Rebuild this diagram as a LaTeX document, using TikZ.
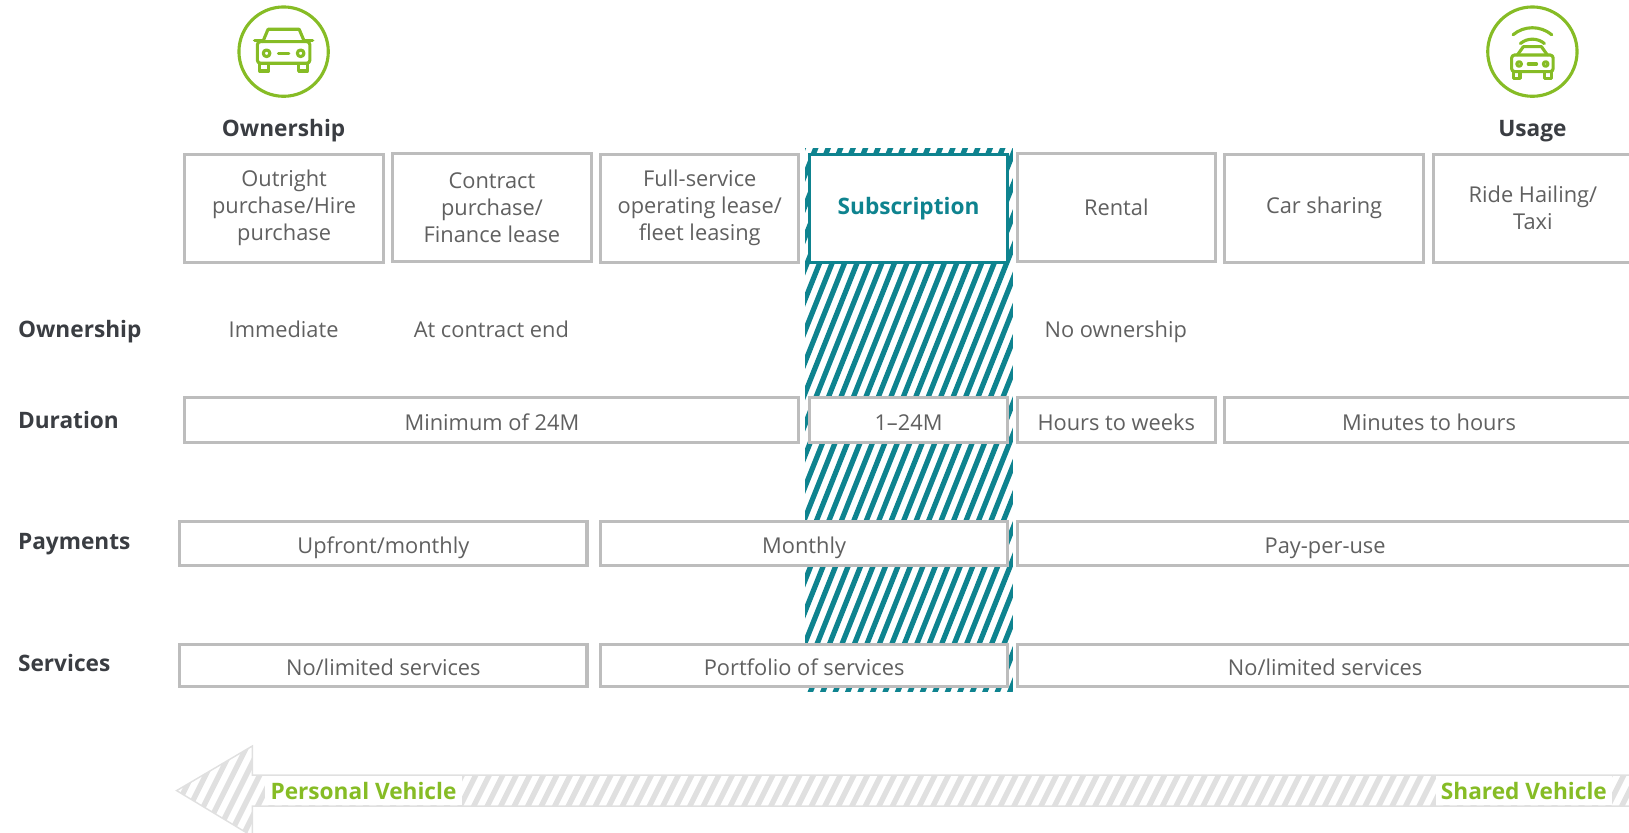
\documentclass[tikz,border=0pt]{standalone}
\usepackage{fontspec}
\setmainfont{Open Sans}
\usetikzlibrary{positioning,calc}

\definecolor{dgreen}{HTML}{86BC25}
\definecolor{dteal}{HTML}{0E838F}
\definecolor{boxgray}{HTML}{BDBDBD}
\definecolor{txtgray}{HTML}{606060}
\definecolor{labeldark}{HTML}{3A3D42}
\definecolor{stripegray}{HTML}{E0E0E0}

\tikzset{
  boldfont/.style={font=\fontsize{10.9}{13}\selectfont\bfseries},
  evenline/.style={text height=9.5pt, text depth=0pt},
  cell/.style={draw=boxgray, line width=1.5pt, fill=white, inner sep=0pt,
    align=center, text=txtgray},
  headcell/.style={cell, minimum width=95.5pt, minimum height=52pt},
  rowcell/.style={cell, evenline, minimum height=21.5pt},
  plaintext/.style={text=txtgray, evenline, inner sep=0pt},
  rowlabel/.style={anchor=west, text=labeldark, boldfont, evenline, inner sep=0pt},
  headlabel/.style={text=labeldark, boldfont, evenline, inner sep=0pt},
  iconring/.style={circle, draw=dgreen, line width=1.5pt, minimum size=43pt, inner sep=0pt},
  iconline/.style={draw=dgreen, line width=1.5pt, line join=round, line cap=round},
  arrowlabel/.style={fill=white, text=dgreen, boldfont,
    inner xsep=2.5pt, inner ysep=0pt, minimum height=14pt},
}

\begin{document}
\begin{tikzpicture}[x=0.5pt, y=-0.5pt, font=\fontsize{10.5}{13}\selectfont]
			\useasboundingbox (0,0) rectangle (1568,801);

			% Icons and headings
			\node[iconring] (ownicon) at (273,49.7) {};
			\begin{scope}[shift={(273,49.7)}]
				\draw[iconline] (-20,-9.6) -- (-15,-21.5) -- (15,-21.5) -- (20,-9.6);
				\draw[iconline, rounded corners=1.5pt] (-25.3,-9.6) rectangle (25.3,11.2);
				\draw[iconline] (-28,-10.6) -- (-21,-10.6) (21,-10.6) -- (28,-10.6);
				\draw[iconline] (-16.4,1.6) circle (3.2) (16.4,1.6) circle (3.2);
				\draw[iconline] (-5,1.6) -- (5,1.6);
				\draw[iconline] (-23,11.2) rectangle (-14.4,18.6) (14.4,11.2) rectangle (23,18.6);
			\end{scope}
			\node[iconring] (useicon) at (1475,49.7) {};
			\begin{scope}[shift={(1475,49.7)}]
				\draw[iconline] (-14.4,3.2) -- (-8.7,-4.8) -- (8.7,-4.8) -- (14.4,3.2);
				\draw[iconline, rounded corners=1.5pt] (-20,3.2) rectangle (20,19.3);
				\draw[iconline] (-12.8,11.9) circle (2.2) (12.8,11.9) circle (2.2);
				\draw[iconline] (-4,11.9) -- (4,11.9);
				\draw[iconline] (-18.3,19.3) rectangle (-11.9,25.7) (11.9,19.3) rectangle (18.3,25.7);
				\draw[iconline] ($(0,6)+(-130:29)$) arc[start angle=-130, end angle=-50, radius=29];
				\draw[iconline] ($(0,6)+(-130:18)$) arc[start angle=-130, end angle=-50, radius=18];
			\end{scope}
			\node[headlabel] (ownhead) at (273,122) {Ownership};
			\node[headlabel] (usehead) at (1475,122) {Usage};

			% Subscription column hatch
			\begin{scope}
				\clip (775,143) rectangle (975,666);
				\foreach \x in {548,560,...,992}
					\draw[dteal, line width=2.5pt] (\x,676) -- ++(217,-543);
			\end{scope}

			% Header boxes
			\node[headcell] (outright) at (273.5,200.5) {Outright\\purchase/Hire\\purchase};
			\node[headcell] (contract) at (473.5,200) {Contract\\purchase/\\Finance lease};
			\node[headcell] (fullservice) at (673.5,200.5) {Full-service\\operating lease/\\fleet leasing};
			\node[headcell, draw=dteal, text=dteal, boldfont] (subscr) at (874.5,200.5) {Subscription};
			\node[headcell] (rental) at (1074.5,200) {Rental};
			\node[headcell] (carshare) at (1274.5,200.5) {Car sharing};
			\node[headcell] (ridehail) at (1475.5,200.5) {Ride Hailing/\\Taxi};

			% Row labels
			\node[rowlabel] (lblown) at (17,315) {Ownership};
			\node[rowlabel] (lbldur) at (17,402.5) {Duration};
			\node[rowlabel] (lblpay) at (17,519.5) {Payments};
			\node[rowlabel] (lblserv) at (17,636.5) {Services};

			% Ownership row
			\node[plaintext] (ownimm) at (273,315.5) {Immediate};
			\node[plaintext] (ownend) at (473,315.5) {At contract end};
			\node[plaintext] (ownnone) at (1074,315.5) {No ownership};

			% Duration row
			\node[rowcell, minimum width=295.5pt] (durmin) at (473.5,404.5) {Minimum of 24M};
			\node[rowcell, minimum width=95.5pt] (dursub) at (874.5,404.5) {1–24M};
			\node[rowcell, minimum width=95.5pt] (durhours) at (1074.5,404.5) {Hours to weeks};
			\node[rowcell, minimum width=196.5pt] (durmins) at (1375.5,404.5) {Minutes to hours};

			% Payments row
			\node[rowcell, minimum width=196pt, minimum height=21pt] (payup) at (369,523) {Upfront/monthly};
			\node[rowcell, minimum width=196pt, minimum height=21pt] (paymon) at (774,523) {Monthly};
			\node[rowcell, minimum width=296.5pt, minimum height=21pt] (payuse) at (1275.5,523) {Pay-per-use};

			% Services row
			\node[rowcell, minimum width=196pt, minimum height=20.5pt] (servnone) at (369,640.5) {No/limited services};
			\node[rowcell, minimum width=196pt, minimum height=20.5pt] (servport) at (774,640.5) {Portfolio of services};
			\node[rowcell, minimum width=296.5pt, minimum height=20.5pt] (servlim) at (1275.5,640.5) {No/limited services};

			% Bottom arrow
			\begin{scope}
				\clip (170,761) -- (243,718) -- (243,746) -- (1580,746) -- (1580,776) -- (243,776) -- (243,805) -- cycle;
				\foreach \x in {100,113,...,1600}
					\draw[stripegray, line width=2.6pt] (\x,812) -- ++(50,-100);
			\end{scope}
			\draw[stripegray, line width=0.7pt] (170,761) -- (243,718) -- (243,746) -- (1580,746) -- (1580,776) -- (243,776) -- (243,805) -- cycle;
			\node[arrowlabel, anchor=west] (personal) at (255,761) {Personal Vehicle};
			\node[arrowlabel, anchor=east] (shared) at (1552,761) {Shared Vehicle};
		\end{tikzpicture}
\end{document}
